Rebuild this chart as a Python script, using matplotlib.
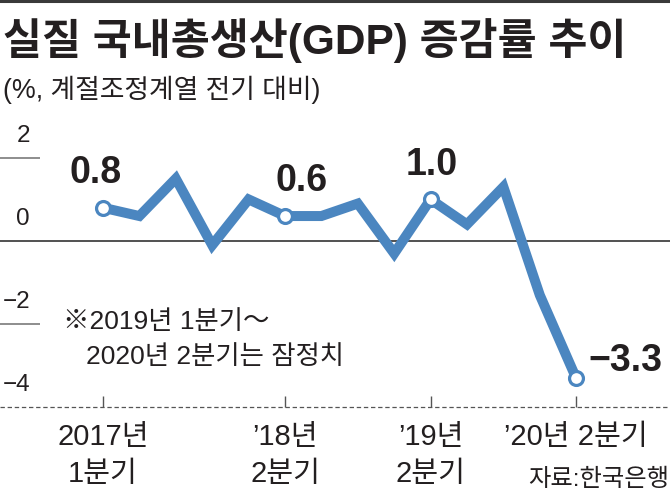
import matplotlib
matplotlib.use('Agg')
import matplotlib.pyplot as plt
from matplotlib import font_manager

# 2017 1Q ~ 2020 2Q, 전기 대비 (%)
quarters = list(range(14))
growth = [0.8, 0.6, 1.5, -0.1, 1.0, 0.6, 0.6, 0.9, -0.3, 1.0, 0.4, 1.3, -1.3, -3.3]

label_idx = [0, 5, 9, 13]
label_txt = ['0.8', '0.6', '1.0', '\u22123.3']
label_off = [(-7, 35), (17, 35), (1, 34), (49, 17)]   # pixels

tick_idx = [0, 5, 9, 13]
tick_line1 = ['2017년', '\u201918년', '\u201919년', '\u201920년 2분기']
tick_line2 = ['1분기', '2분기', '2분기', '']

yticks = [2, 0, -2, -4]
ytick_txt = ['2', '0', '\u22122', '\u22124']

BLUE = '#4b86c0'
INK = '#231f20'

names = {f.name for f in font_manager.fontManager.ttflist}
narrow = 'Liberation Sans Narrow' if 'Liberation Sans Narrow' in names else 'Liberation Sans'
FAM = [narrow, 'Noto Sans CJK KR', 'DejaVu Sans']
plt.rcParams['font.family'] = FAM

W, H = 670, 498
fig = plt.figure(figsize=(W / 100, H / 100), dpi=100)
ax = fig.add_axes([0, 0, 1, 1])
ax.set_axis_off()

# pixel layout: x0 = 103px, 36.4px per quarter; zero at 241px, 41.6px per %
x0, dx = 103, 36.4
y0, dy = 241, 41.6
ax.set_xlim(-x0 / dx, (W - x0) / dx)
ax.set_ylim((y0 - H) / dy, y0 / dy)

def px_x(p):
    return (p - x0) / dx

# guides
ax.axhline(0, color='#222222', lw=1.1, zorder=1)
ax.hlines([2, -2], px_x(0), px_x(40), color='#7a7a7a', lw=1.2)
ax.axhline(-4, color='#555555', lw=0.9, ls=(0, (3.5, 2.2)))
ax.vlines(tick_idx, -4, -4 + 11 / dy, color='#555555', lw=1)

for v, t in zip(yticks, ytick_txt):
    ax.text(px_x(30), v + 11 / dy, t, ha='right', va='bottom',
            fontsize=17.5, color=INK)

# series
ax.plot(quarters, growth, color=BLUE, lw=7.2, solid_joinstyle='miter',
        solid_capstyle='butt', zorder=3)
ax.plot(label_idx, [growth[i] for i in label_idx], 'o', ms=10, mfc='white',
        mec=BLUE, mew=2.3, zorder=4)

for i, t, (ox, oy) in zip(label_idx, label_txt, label_off):
    ax.annotate(t, (i, growth[i]), xytext=(ox, oy), textcoords='offset pixels',
                ha='center', va='center', fontsize=27, fontweight='bold',
                color=INK)

for i, t1, t2 in zip(tick_idx, tick_line1, tick_line2):
    ax.text(i, (y0 - 437) / dy, t1, ha='center', va='center', fontsize=21,
            color=INK)
    if t2:
        ax.text(i, (y0 - 474) / dy, t2, ha='center', va='center', fontsize=21,
                color=INK)

# note
ax.text(px_x(63), (y0 - 322) / dy, '\u203b2019년 1분기\uff5e', ha='left',
        va='center', fontsize=19, color=INK)
ax.text(px_x(86), (y0 - 357) / dy, '2020년 2분기는 잠정치', ha='left',
        va='center', fontsize=19, color=INK)

# titles
fig.add_artist(plt.Line2D([0, 1], [1 - 1.5 / H, 1 - 1.5 / H], color='#3a3a3a',
                          lw=2.2))
fig.text(3 / W, 1 - 41 / H, '실질 국내총생산(GDP) 증감률 추이', ha='left',
         va='center', fontsize=30.5, fontweight='bold', color=INK)
fig.text(3 / W, 1 - 90 / H, '(%, 계절조정계열 전기 대비)', ha='left',
         va='center', fontsize=19.3, color=INK)
fig.text(669 / W, 1 - 480 / H, '자료:한국은행', ha='right', va='center',
         fontsize=17.5, color=INK)

fig.savefig('out.png', dpi=100)
